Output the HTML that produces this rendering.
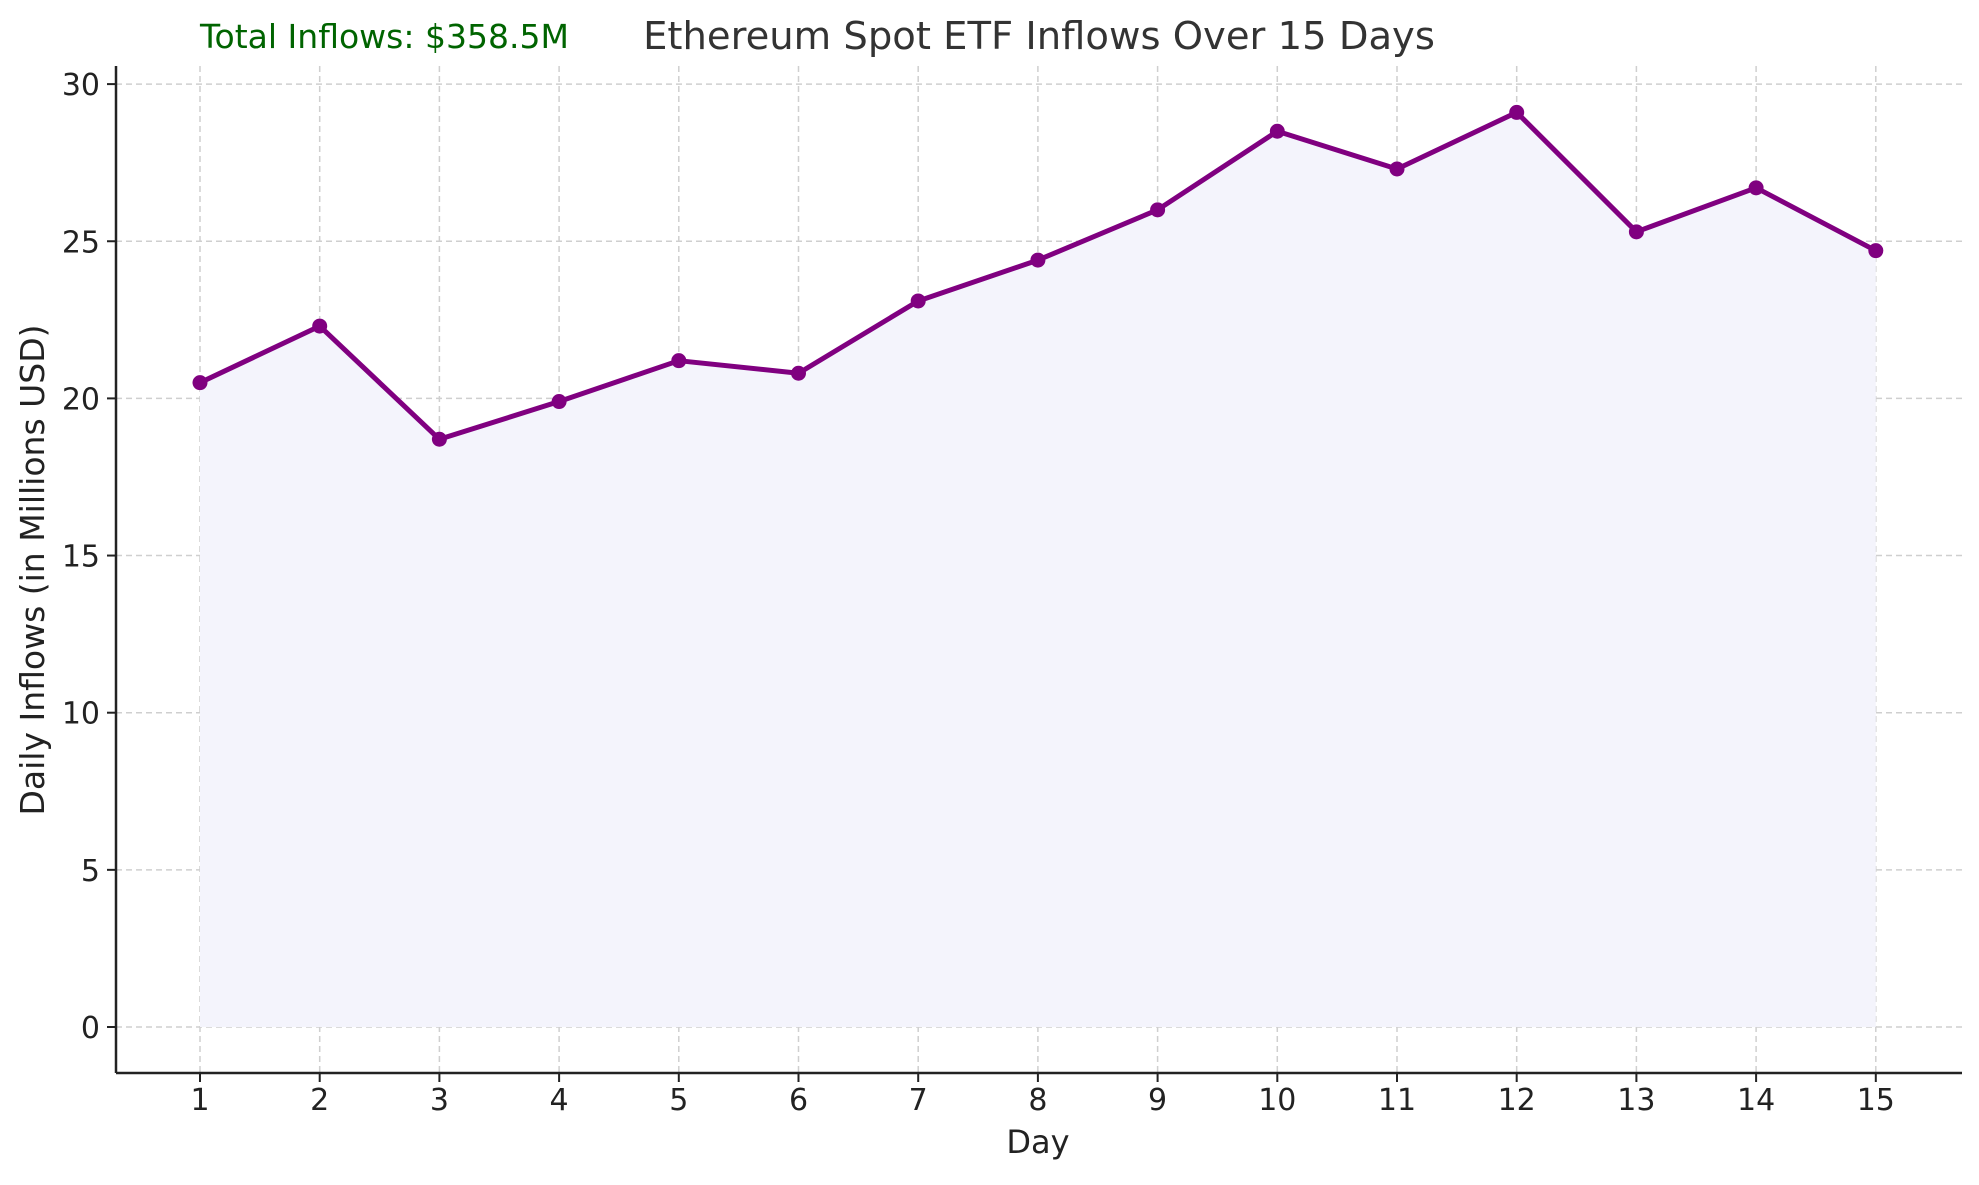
<!DOCTYPE html>
<html><head><meta charset="utf-8"><style>
body{margin:0;background:#fff}
svg text{font-family:"DejaVu Sans","Liberation Sans",sans-serif}
</style></head><body>
<svg width="1979" height="1180" viewBox="0 0 1979 1180">
<g id="grid"></g>
<path id="area" fill="#f4f4fc"/>
<path id="line" fill="none" stroke="#800080" stroke-width="5" stroke-linejoin="round"/>
<g id="pts"></g>
<line x1="116" y1="66" x2="116" y2="1073" stroke="#222" stroke-width="2.5"/>
<line x1="116" y1="1073" x2="1962" y2="1073" stroke="#222" stroke-width="2.5"/>
<g id="ticks"></g>
<text x="200" y="48" font-size="33" fill="#006400">Total Inflows: $358.5M</text>
<text x="1039" y="49" font-size="38.5" fill="#333" text-anchor="middle">Ethereum Spot ETF Inflows Over 15 Days</text>
<text x="1038" y="1153" font-size="32" fill="#222" text-anchor="middle">Day</text>
<text transform="translate(44,570) rotate(-90)" font-size="33" fill="#222" text-anchor="middle">Daily Inflows (in Millions USD)</text>
</svg>
<script>
const days=[1,2,3,4,5,6,7,8,9,10,11,12,13,14,15];
const inflows=[20.5,22.3,18.7,19.9,21.2,20.8,23.1,24.4,26.0,28.5,27.3,29.1,25.3,26.7,24.7];
const yTicks=[0,5,10,15,20,25,30];
const NS="http://www.w3.org/2000/svg";
const X=d=>200+(d-1)*119.7;
const Y=v=>1027-v*31.43;
function mk(t,a,p){const e=document.createElementNS(NS,t);for(const k in a)e.setAttribute(k,a[k]);p.appendChild(e);return e;}
const grid=document.getElementById('grid'),ticks=document.getElementById('ticks'),pts=document.getElementById('pts');
yTicks.forEach(v=>{
 const g=mk('line',{x1:116,x2:1962,y1:Y(v),y2:Y(v),stroke:'#cfcfcf','stroke-width':1.5,'stroke-dasharray':'6,4'},grid);
 
 
 mk('line',{x1:107,x2:116,y1:Y(v),y2:Y(v),stroke:'#222','stroke-width':2},ticks);
 const t=mk('text',{x:100,y:Y(v)+11,'font-size':30,fill:'#222','text-anchor':'end'},ticks);
 t.textContent=v;
 
 
});
days.forEach(d=>{
 const g=mk('line',{x1:X(d),x2:X(d),y1:66,y2:1073,stroke:'#cfcfcf','stroke-width':1.5,'stroke-dasharray':'6,4'},grid);
 
 
 mk('line',{x1:X(d),x2:X(d),y1:1073,y2:1082,stroke:'#222','stroke-width':2},ticks);
 const t=mk('text',{x:X(d),y:1110,'font-size':30,fill:'#222','text-anchor':'middle'},ticks);
 t.textContent=d;
 
 
});
let p='';days.forEach((d,i)=>{p+=(i?'L':'M')+X(d)+','+Y(inflows[i]);});
document.getElementById('line').setAttribute('d',p);
document.getElementById('area').setAttribute('d',p+'L'+X(days[days.length-1])+','+Y(0)+'L'+X(days[0])+','+Y(0)+'Z');
days.forEach((d,i)=>{
 const c=mk('circle',{cx:X(d),cy:Y(inflows[i]),r:7.5,fill:'#800080'},pts);
 
 
});
</script>
</body></html>
